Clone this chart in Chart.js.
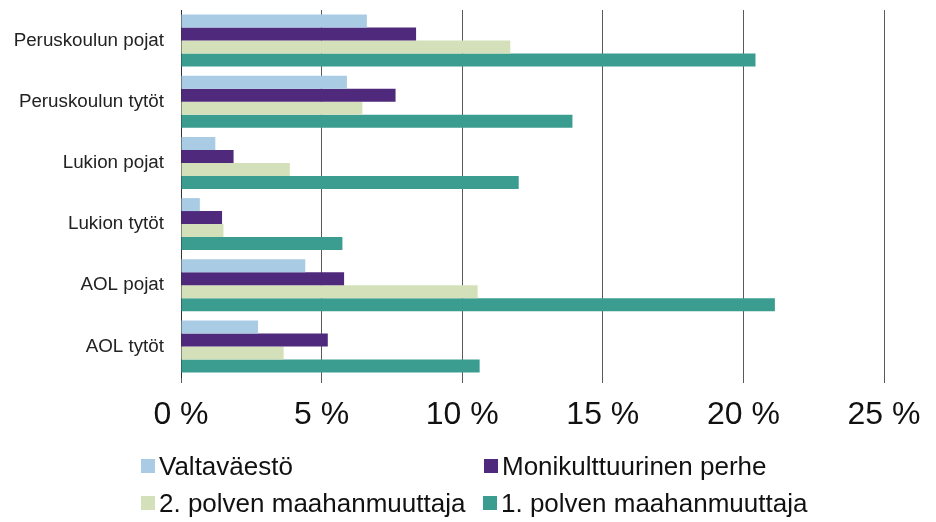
<!DOCTYPE html>
<html>
<head>
<meta charset="utf-8">
<script src="https://cdn.jsdelivr.net/npm/chart.js@4/dist/chart.umd.min.js"></script>
<style>
  html, body { margin: 0; padding: 0; background: #fff; }
  #wrap { position: relative; width: 936px; height: 522px; }
  #c { position: absolute; left: 0; top: 0; }
  .lg { position: absolute; font-family: "Liberation Sans", Arial, sans-serif; font-size: 26px; color: #111; white-space: nowrap; line-height: 30px; height: 30px; }
  .lg .box { position: absolute; left: 0; top: 8px; width: 14px; height: 14px; }
  .lg .txt { position: absolute; left: 18px; top: 0; }
</style>
</head>
<body>
<div id="wrap">
  <canvas id="c" width="936" height="522"></canvas>
  <div id="legend"></div>
</div>
<script>
const categories = ["Peruskoulun pojat", "Peruskoulun tytöt", "Lukion pojat", "Lukion tytöt", "AOL pojat", "AOL tytöt"];
const seriesNames = ["Valtaväestö", "Monikulttuurinen perhe", "2. polven maahanmuuttaja", "1. polven maahanmuuttaja"];
const valtavaesto   = [6.61, 5.90, 1.22, 0.67, 4.42, 2.74];
const monikulttuur  = [8.36, 7.63, 1.87, 1.46, 5.80, 5.22];
const polvi2        = [11.71, 6.45, 3.87, 1.51, 10.55, 3.65];
const polvi1        = [20.43, 13.92, 12.01, 5.74, 21.12, 10.62];
const tickValues = [0, 5, 10, 15, 20, 25];
const colors = ["#a9cce4", "#4f2a7c", "#d3e0b9", "#3a9d8f"];

const seriesValues = [valtavaesto, monikulttuur, polvi2, polvi1];
const FONT = '"Liberation Sans", Arial, sans-serif';

const chart = new Chart(document.getElementById('c'), {
  type: 'bar',
  data: {
    labels: categories,
    datasets: seriesNames.map((n, i) => ({
      label: n,
      data: seriesValues[i],
      backgroundColor: colors[i],
      borderWidth: 0,
      categoryPercentage: 0.85,
      barPercentage: 1.0
    }))
  },
  options: {
    indexAxis: 'y',
    responsive: false,
    animation: false,
    layout: { padding: { top: 10, right: 52, bottom: 85, left: 0 } },
    plugins: { legend: { display: false }, tooltip: { enabled: false } },
    scales: {
      x: {
        min: 0, max: 25,
        afterBuildTicks: (s) => { s.ticks = tickValues.map(v => ({ value: v })); },
        afterFit: (s) => { s.height = 60; s.paddingLeft = 0; s.paddingRight = 0; },
        grid: { color: '#5a5a5a', lineWidth: 1, tickLength: 6, drawTicks: true },
        border: { display: false },
        ticks: {
          padding: 13,
          color: '#111',
          font: { family: FONT, size: 32 },
          callback: (v) => v + ' %'
        }
      },
      y: {
        afterFit: (s) => { s.width = 181; s.paddingTop = 0; s.paddingBottom = 0; },
        grid: { display: false, drawTicks: false },
        border: { display: true, color: '#333', width: 1 },
        ticks: {
          padding: 17,
          color: '#222',
          font: { family: FONT, size: 18.8 }
        }
      }
    }
  }
});

// HTML legend (2 x 2 grid)
const legendPos = [[141, 451], [484, 451], [141, 488], [483, 488]];
const lg = document.getElementById('legend');
seriesNames.forEach((n, i) => {
  const d = document.createElement('div');
  d.className = 'lg';
  d.style.left = legendPos[i][0] + 'px';
  d.style.top = legendPos[i][1] + 'px';
  const b = document.createElement('span');
  b.className = 'box';
  b.style.background = colors[i];
  const t = document.createElement('span');
  t.className = 'txt';
  t.textContent = n;
  d.appendChild(b); d.appendChild(t);
  lg.appendChild(d);
});
</script>
</body>
</html>
